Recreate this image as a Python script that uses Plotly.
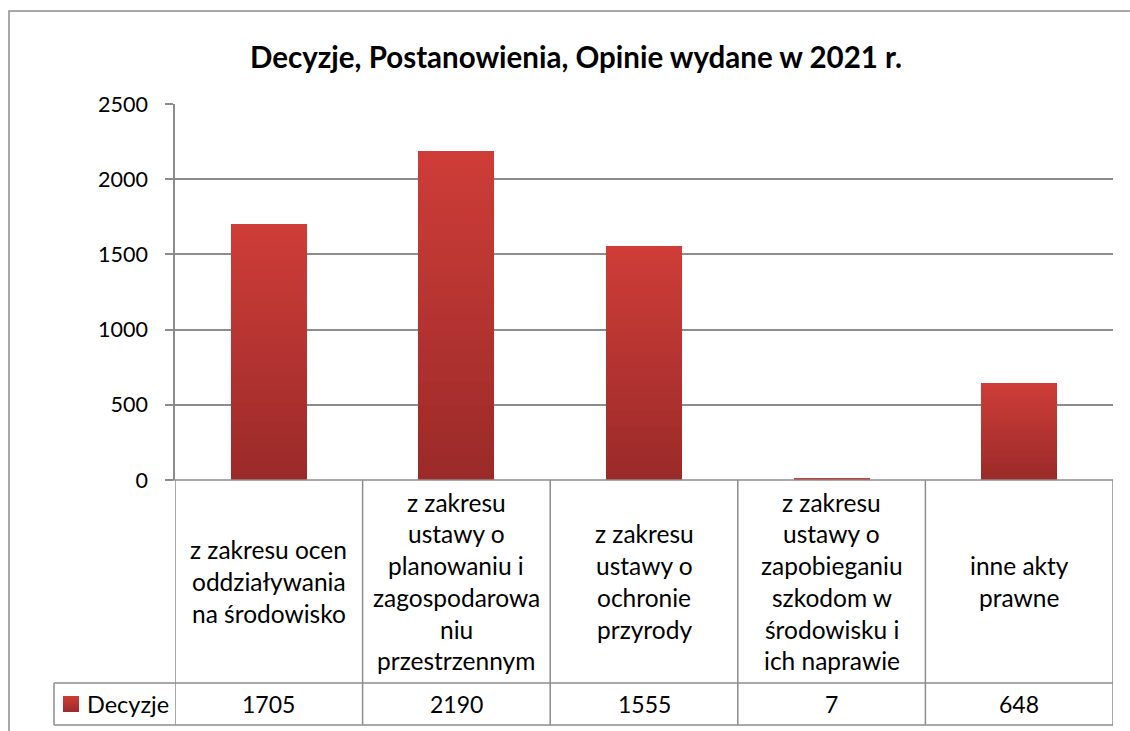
import plotly.graph_objects as go

# ---------------- data ----------------
title_text = "Decyzje, Postanowienia, Opinie wydane w 2021 r."
series_name = "Decyzje"
category_lines = [
    ["z zakresu ocen", "oddziaływania", "na środowisko"],
    ["z zakresu", "ustawy o", "planowaniu i", "zagospodarowa", "niu", "przestrzennym"],
    ["z zakresu", "ustawy o", "ochronie", "przyrody"],
    ["z zakresu", "ustawy o", "zapobieganiu", "szkodom w", "środowisku i", "ich naprawie"],
    ["inne akty", "prawne"],
]
values = [1705, 2190, 1555, 7, 648]
y_ticks = [0, 500, 1000, 1500, 2000, 2500]

# ---------------- layout constants (pixels) ----------------
W, H = 1130, 731
PL, PR = 175, 1113      # plot area left/right
PT, PB = 104, 480       # plot area top/bottom
FONT = "Lato, Carlito, Calibri, sans-serif"
GRID = "#8c8c8c"
TOP_C = (207, 61, 56)
BOT_C = (154, 42, 41)

def px_x(p):
    return (p - PL) / (PR - PL)

def px_y(p):
    return (PB - p) / (PB - PT)

def mix(t):
    r = [round(BOT_C[i] + (TOP_C[i] - BOT_C[i]) * t) for i in range(3)]
    return "rgb(%d,%d,%d)" % tuple(r)

n = len(values)
xs = list(range(n))

fig = go.Figure()

# gradient bars: overlaid bars of decreasing height, each scaled from the data
N = 40
for k in range(N):
    frac = (N - k) / N
    fig.add_trace(go.Bar(
        x=xs, y=[v * frac for v in values],
        width=0.405,
        marker=dict(color=mix((N - k - 0.5) / N), line=dict(width=0)),
        hoverinfo="skip", showlegend=False,
    ))

shapes = []
line = dict(color=GRID, width=1.5)

# outer chart border
shapes.append(dict(type="rect", xref="paper", yref="paper",
                   x0=px_x(9), x1=px_x(1145), y0=px_y(745), y1=px_y(11),
                   line=dict(color=GRID, width=1.5), layer="below"))

# data table lines
y_tab_top, y_row, y_bot = 480, 683, 725
for b in [i - 0.5 for i in range(n + 1)]:
    shapes.append(dict(type="line", xref="x", yref="paper",
                       x0=b, x1=b, y0=px_y(y_tab_top), y1=px_y(y_bot), line=line))
shapes.append(dict(type="line", xref="paper", yref="paper",
                   x0=px_x(54), x1=1, y0=px_y(y_row), y1=px_y(y_row), line=line))
shapes.append(dict(type="line", xref="paper", yref="paper",
                   x0=px_x(54), x1=1, y0=px_y(y_bot), y1=px_y(y_bot), line=line))
shapes.append(dict(type="line", xref="paper", yref="paper",
                   x0=px_x(54), x1=px_x(54), y0=px_y(y_row), y1=px_y(y_bot), line=line))
shapes.append(dict(type="line", xref="paper", yref="paper",
                   x0=px_x(167), x1=1, y0=0, y1=0, line=line))

# legend key (small gradient square)
KN = 8
for k in range(KN):
    y0p = 712 - 16 * k / KN
    y1p = 712 - 16 * (k + 1) / KN
    shapes.append(dict(type="rect", xref="paper", yref="paper",
                       x0=px_x(63), x1=px_x(79), y0=px_y(y0p), y1=px_y(y1p),
                       fillcolor=mix((k + 0.5) / KN), line=dict(width=0)))

annotations = []
# category labels, one annotation per line
LS = 31.7
cell_mid = (y_tab_top + y_row) / 2
for i, lines in enumerate(category_lines):
    m = len(lines)
    for j, t in enumerate(lines):
        yc = cell_mid + (j - (m - 1) / 2) * LS
        annotations.append(dict(x=i, xref="x", y=px_y(yc), yref="paper",
                                text=t, showarrow=False, xanchor="center", yanchor="middle",
                                font=dict(family=FONT, size=24.5, color="#000")))
# values row
for i, v in enumerate(values):
    annotations.append(dict(x=i, xref="x", y=px_y((y_row + y_bot) / 2), yref="paper",
                            text=str(v), showarrow=False, xanchor="center", yanchor="middle",
                            font=dict(family=FONT, size=23, color="#000")))
annotations.append(dict(x=px_x(85), xref="paper", y=px_y((y_row + y_bot) / 2), yref="paper",
                        text=series_name, showarrow=False, xanchor="left", yanchor="middle",
                        font=dict(family=FONT, size=23.5, color="#000")))
# title
annotations.append(dict(x=px_x(576), xref="paper", y=px_y(56), yref="paper",
                        text="<b>%s</b>" % title_text, showarrow=False,
                        xanchor="center", yanchor="middle",
                        font=dict(family=FONT, size=29.5, color="#000")))

fig.update_layout(
    width=W, height=H,
    margin=dict(l=PL, r=W - PR, t=PT, b=H - PB, autoexpand=False),
    paper_bgcolor="white", plot_bgcolor="white",
    barmode="overlay", bargap=0, showlegend=False,
    shapes=shapes, annotations=annotations,
    xaxis=dict(range=[-0.5, n - 0.5], showticklabels=False, showgrid=False,
               zeroline=False, showline=False, ticks="", fixedrange=True),
    yaxis=dict(range=[0, 2500], tickvals=y_ticks, showgrid=True, gridcolor=GRID,
               gridwidth=1.5, zeroline=False, showline=True, linecolor=GRID,
               linewidth=1.5, ticks="outside", ticklen=8, tickcolor=GRID, tickwidth=1.5,
               ticklabelstandoff=13,
               tickfont=dict(family=FONT, size=21.5, color="#000"), fixedrange=True),
)

fig.write_html(
    "out.html",
    config={"displayModeBar": False},
    post_script="document.body.style.margin='0';document.body.style.overflow='hidden';",
)
